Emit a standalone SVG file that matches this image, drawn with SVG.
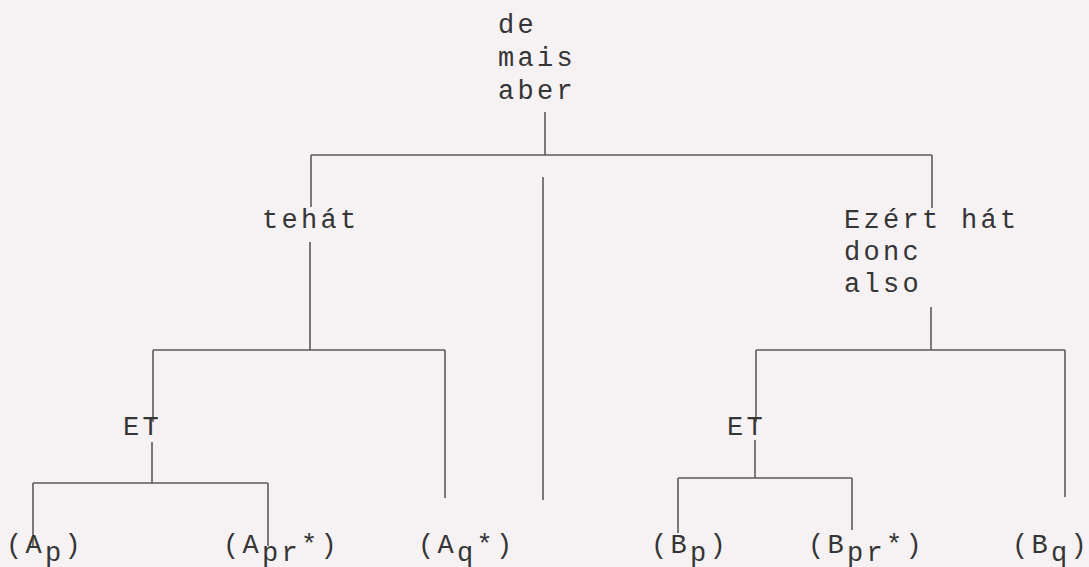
<svg xmlns="http://www.w3.org/2000/svg" width="1089" height="567" viewBox="0 0 1089 567">
<style>
.t{font-family:"Liberation Mono","DejaVu Sans Mono",monospace;font-size:27px;letter-spacing:3.3px;fill:#353535}
.c{stroke:#5b5b5b;stroke-width:1.6;fill:none}
</style>
<rect width="1089" height="567" fill="#f6f2f3"/>
<g id="connectors">
<path class="c" d="M545 112V155M311 155H932M311 155V207M310 242V350M153 350H445M153 350V422M152 442V483M33 483H268M33 483V548M268 483V546M445 350V498M543 177V500M932 155V208M931 307V350M756 350H1065M756 350V422M755 440V478M678 478H852M678 478V533M852 478V530M1065 350V497"/>
</g>
<g id="root"><text class="t" x="498" y="33">de</text><text class="t" x="498" y="66">mais</text><text class="t" x="498" y="99">aber</text></g>
<g id="tehat"><text class="t" x="262" y="228">tehát</text></g>
<g id="ezert"><text class="t" x="844" y="228">Ezért hát</text><text class="t" x="844" y="260">donc</text><text class="t" x="844" y="292">also</text></g>
<g id="et-left"><text class="t" x="123" y="435">ET</text></g>
<g id="et-right"><text class="t" x="727" y="435">ET</text></g>
<g id="ap"><text class="t" x="6" y="553">(A<tspan dy="8">p</tspan><tspan dy="-8">)</tspan></text></g>
<g id="apr"><text class="t" x="223" y="553">(A<tspan dy="8">pr</tspan><tspan dy="-8">*)</tspan></text></g>
<g id="aq"><text class="t" x="418" y="553">(A<tspan dy="8">q</tspan><tspan dy="-8">*)</tspan></text></g>
<g id="bp"><text class="t" x="651" y="553">(B<tspan dy="8">p</tspan><tspan dy="-8">)</tspan></text></g>
<g id="bpr"><text class="t" x="808" y="553">(B<tspan dy="8">pr</tspan><tspan dy="-8">*)</tspan></text></g>
<g id="bq"><text class="t" x="1012" y="553">(B<tspan dy="8">q</tspan><tspan dy="-8">)</tspan></text></g>
</svg>
